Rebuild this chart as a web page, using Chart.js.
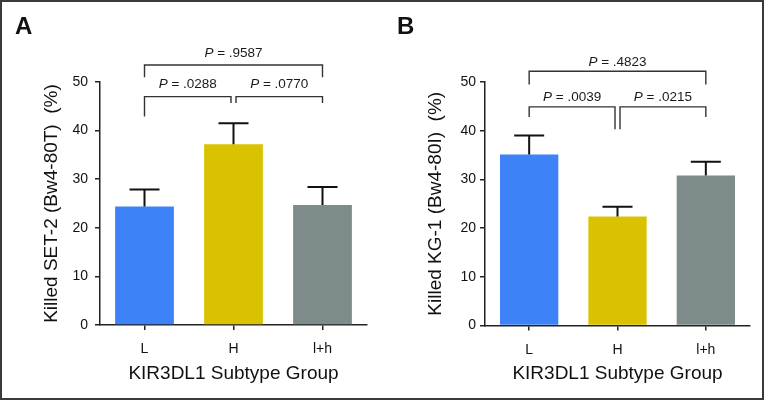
<!DOCTYPE html>
<html><head><meta charset="utf-8">
<script src="https://cdn.jsdelivr.net/npm/chart.js@4"></script>
<style>
html,body{margin:0;padding:0;background:#fff;}
#wrap{position:relative;width:765px;height:400px;overflow:hidden;background:#fff;}
#frame{position:absolute;left:0;top:0;width:764px;height:400px;box-sizing:border-box;border:2px solid #3a3a3a;pointer-events:none;}
.c{position:absolute;top:0;height:400px;}
.lbl{position:absolute;font:bold 24px "Liberation Sans",Arial,sans-serif;line-height:24px;color:#111;}
</style></head>
<body><div id="wrap">
<div class="c" style="left:0;width:380px"><canvas id="ca"></canvas></div>
<div class="c" style="left:380px;width:385px"><canvas id="cb"></canvas></div>
<div class="lbl" style="left:15px;top:14px">A</div>
<div class="lbl" style="left:397px;top:14px">B</div>
<div id="frame"></div>
</div>
<script>
// ---- data ----
const categories = ['L', 'H', 'l+h'];
const yTickValues = [0, 10, 20, 30, 40, 50];
const barColors = ['#3d82f6', '#d9c300', '#7d8b8a'];

// Panel A: Killed SET-2 (Bw4-80T) (%)
const killedSET2 = [24.4, 37.2, 24.7];
const errTopSET2 = [27.9, 41.5, 28.4];
const pairsA = [[0, 1], [1, 2], [0, 2]];
const pValuesA = ['.0288', '.0770', '.9587'];
const bracketLevelA = [47.0, 47.0, 53.5];
const bracketLegsA = [[42.9, 45.7], [45.7, 45.7], [51.0, 51.0]];
const labelLevelA = [49.6, 49.6, 55.9];

// Panel B: Killed KG-1 (Bw4-80I) (%)
const killedKG1 = [35.1, 22.4, 30.8];
const errTopKG1 = [39.0, 24.4, 33.6];
const pairsB = [[0, 1], [1, 2], [0, 2]];
const pValuesB = ['.0039', '.0215', '.4823'];
const bracketLevelB = [44.9, 44.9, 52.2];
const bracketLegsB = [[42.8, 40.3], [40.3, 42.8], [49.5, 49.5]];
const labelLevelB = [46.8, 46.8, 54.1];

const FAMILY = '"Liberation Sans", Arial, sans-serif';
Chart.defaults.font.family = FAMILY;

function annotPlugin(err, pairs, levels, legs, labelLevels, pvals) {
  return {
    id: 'annot',
    afterDatasetsDraw(chart) {
      const ctx = chart.ctx;
      const y = chart.scales.y;
      const meta = chart.getDatasetMeta(0);
      ctx.save();
      // error bars (upper)
      ctx.strokeStyle = '#111';
      ctx.lineWidth = 2;
      err.forEach((v, i) => {
        const bar = meta.data[i];
        const top = y.getPixelForValue(v);
        ctx.beginPath();
        ctx.moveTo(bar.x, bar.y);
        ctx.lineTo(bar.x, top);
        ctx.moveTo(bar.x - 15, top);
        ctx.lineTo(bar.x + 15, top);
        ctx.stroke();
      });
      // brackets
      ctx.strokeStyle = '#333';
      ctx.lineWidth = 1.4;
      pairs.forEach(([a, b], k) => {
        let xa = meta.data[a].x, xb = meta.data[b].x;
        if (b - a === 1) {
          if (a === 1) xa += 2.5;
          if (b === 1) xb -= 2.5;
        }
        const yl = y.getPixelForValue(levels[k]);
        const ya = y.getPixelForValue(legs[k][0]);
        const yb = y.getPixelForValue(legs[k][1]);
        ctx.beginPath();
        ctx.moveTo(xa, ya);
        ctx.lineTo(xa, yl);
        ctx.lineTo(xb, yl);
        ctx.lineTo(xb, yb);
        ctx.stroke();
        // label
        const ty = y.getPixelForValue(labelLevels[k]);
        const cx = (xa + xb) / 2;
        const f1 = 'italic 13.5px ' + FAMILY, f2 = '13.5px ' + FAMILY;
        const rest = ' = ' + pvals[k];
        ctx.font = f1; const w1 = ctx.measureText('P').width;
        ctx.font = f2; const w2 = ctx.measureText(rest).width;
        let sx = cx - (w1 + w2) / 2;
        ctx.fillStyle = '#1a1a1a';
        ctx.textBaseline = 'middle';
        ctx.textAlign = 'left';
        ctx.font = f1; ctx.fillText('P', sx, ty);
        ctx.font = f2; ctx.fillText(rest, sx + w1, ty);
      });
      ctx.restore();
    }
  };
}

function makeChart(id, values, yTitle, cfg, plugin) {
  return new Chart(document.getElementById(id), {
    type: 'bar',
    data: {
      labels: categories,
      datasets: [{
        data: values,
        backgroundColor: barColors,
        borderWidth: 0,
        categoryPercentage: 1,
        barPercentage: 0.66
      }]
    },
    options: {
      responsive: true,
      maintainAspectRatio: false,
      animation: false,
      events: [],
      layout: { padding: { top: cfg.top, right: cfg.right, left: 0, bottom: 0 } },
      plugins: { legend: { display: false }, tooltip: { enabled: false } },
      scales: {
        x: {
          grid: { display: true, drawOnChartArea: false, drawTicks: true, tickLength: 5, offset: false, color: '#222', lineWidth: 1.5 },
          border: { display: true, color: '#222', width: 1.5 },
          ticks: { color: '#111', font: { size: 14 }, padding: 11 },
          title: { display: true, text: 'KIR3DL1 Subtype Group', color: '#111', font: { size: 19 }, padding: { top: 0, bottom: 15 } },
          afterFit(s) { s.height = cfg.bottom; }
        },
        y: {
          min: 0, max: 50,
          afterBuildTicks(s) { s.ticks = yTickValues.map(v => ({ value: v })); },
          grid: { display: true, drawOnChartArea: false, drawTicks: true, tickLength: 5, color: '#222', lineWidth: 1.5 },
          border: { display: true, color: '#222', width: 1.5 },
          ticks: { color: '#111', font: { size: 14 }, padding: cfg.tickPad },
          title: { display: true, text: yTitle, color: '#111', font: { size: 19 }, padding: { top: cfg.titlePad, bottom: 0 } },
          afterFit(s) { s.width = cfg.axisW; }
        }
      }
    },
    plugins: [plugin]
  });
}

makeChart('ca', killedSET2, 'Killed SET-2 (Bw4-80T)  (%)',
  { top: 82, right: 13, bottom: 75, axisW: 100, tickPad: 7, titlePad: 40 },
  annotPlugin(errTopSET2, pairsA, bracketLevelA, bracketLegsA, labelLevelA, pValuesA));

makeChart('cb', killedKG1, 'Killed KG-1 (Bw4-80I)  (%)',
  { top: 82, right: 15, bottom: 74.5, axisW: 105, tickPad: 4, titlePad: 44 },
  annotPlugin(errTopKG1, pairsB, bracketLevelB, bracketLegsB, labelLevelB, pValuesB));
</script>
</body></html>
